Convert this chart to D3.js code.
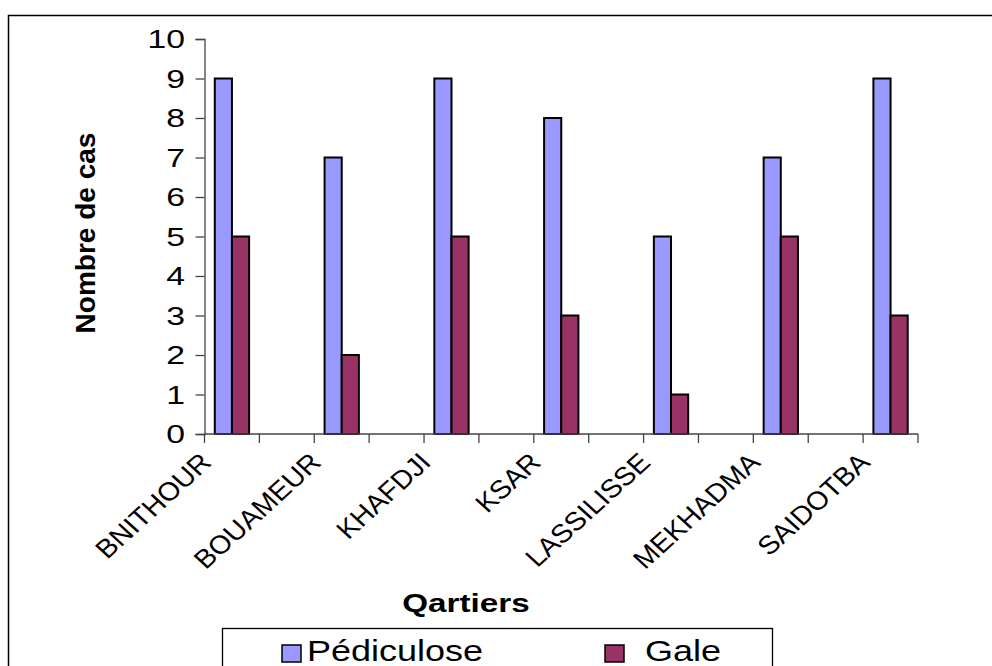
<!DOCTYPE html>
<html>
<head>
<meta charset="utf-8">
<script src="https://cdn.jsdelivr.net/npm/d3@7"></script>
<style>
  html, body { margin: 0; padding: 0; background: #fff; }
  svg { display: block; font-family: "Liberation Sans", Arial, sans-serif; }
</style>
</head>
<body>
<svg id="chart" width="992" height="666"></svg>
<script>
// Districts and number of cases per disease
const quartiers = ["BNITHOUR", "BOUAMEUR", "KHAFDJI", "KSAR", "LASSILISSE", "MEKHADMA", "SAIDOTBA"];
const pediculose = [9, 7, 9, 8, 5, 7, 9];
const gale = [5, 2, 5, 3, 1, 5, 3];
const seriesNames = ["Pédiculose", "Gale"];
const seriesColors = ["#9999FF", "#993366"];
const yTicks = [0, 1, 2, 3, 4, 5, 6, 7, 8, 9, 10];

const svg = d3.select("#chart");

// outer frame (runs off the right and bottom edges)
svg.append("rect")
  .attr("x", 8.5).attr("y", 15.5)
  .attr("width", 1100).attr("height", 800)
  .attr("fill", "none").attr("stroke", "#000").attr("stroke-width", 1.5);

const plotLeft = 204.5, plotRight = 918, plotTop = 39, plotBottom = 434;

// category slots: each district followed by an empty slot
const slots = [];
quartiers.forEach((q, i) => {
  slots.push(q);
  if (i < quartiers.length - 1) slots.push("__gap" + i);
});

const x = d3.scaleBand().domain(slots).range([plotLeft, plotRight]).padding(0);
const x1 = d3.scaleBand().domain(seriesNames).range([0, x.step()])
  .paddingInner(0).paddingOuter(0.6);
const y = d3.scaleLinear().domain([0, 10]).range([plotBottom, plotTop]);

const rows = quartiers.map((q, i) => ({ q, values: [pediculose[i], gale[i]] }));

// bars
const groups = svg.append("g").selectAll("g").data(rows).join("g")
  .attr("transform", d => `translate(${x(d.q)},0)`);
groups.selectAll("rect")
  .data(d => d.values.map((v, k) => ({ v, k })))
  .join("rect")
  .attr("x", d => x1(seriesNames[d.k]))
  .attr("width", x1.bandwidth())
  .attr("y", d => y(d.v))
  .attr("height", d => y(0) - y(d.v))
  .attr("fill", d => seriesColors[d.k])
  .attr("stroke", "#000").attr("stroke-width", 2);

// y axis
const yAxis = svg.append("g").attr("transform", `translate(${plotLeft},0)`)
  .call(d3.axisLeft(y).tickValues(yTicks).tickSize(9).tickFormat(() => ""));
yAxis.select(".domain").attr("stroke", "#444").attr("stroke-width", 1.3);
yAxis.selectAll(".tick line").attr("stroke", "#444").attr("stroke-width", 1.3);

svg.append("g").selectAll("text").data(yTicks).join("text")
  .attr("transform", d => `translate(185,${y(d)}) scale(1.35,1)`)
  .attr("text-anchor", "end").attr("dy", "0.36em")
  .attr("font-size", 25)
  .text(d => d);

// x axis: ticks at every slot boundary
const xAxisG = svg.append("g").attr("transform", `translate(0,${plotBottom})`);
xAxisG.append("line").attr("x1", plotLeft).attr("x2", plotRight)
  .attr("stroke", "#444").attr("stroke-width", 1.3);
const bounds = slots.map(s => x(s)).concat([plotRight]);
xAxisG.selectAll("line.tk").data(bounds).join("line").attr("class", "tk")
  .attr("x1", d => d).attr("x2", d => d).attr("y1", 0).attr("y2", 9)
  .attr("stroke", "#444").attr("stroke-width", 1.3);

// rotated district labels
svg.append("g").selectAll("text").data(quartiers).join("text")
  .attr("transform", d => `translate(${x(d) + x.bandwidth() / 2 - 19},464) scale(1.1,1) rotate(-45)`)
  .attr("text-anchor", "end")
  .attr("font-size", 26)
  .text(d => d);

// axis titles
svg.append("text")
  .attr("transform", "translate(95,233) rotate(-90)")
  .attr("text-anchor", "middle")
  .attr("font-size", 28).attr("font-weight", "bold")
  .text("Nombre de cas");

svg.append("text")
  .attr("transform", "translate(466,612) scale(1.28,1)")
  .attr("text-anchor", "middle")
  .attr("font-size", 26).attr("font-weight", "bold")
  .text("Qartiers");

// legend
const legend = svg.append("g");
legend.append("rect")
  .attr("x", 222.5).attr("y", 628.5).attr("width", 550).attr("height", 60)
  .attr("fill", "#fff").attr("stroke", "#000").attr("stroke-width", 1.3);
const legendX = [282, 605];
const items = legend.selectAll("g.item").data(seriesNames).join("g").attr("class", "item")
  .attr("transform", (d, i) => `translate(${legendX[i]},645)`);
items.append("rect").attr("width", 19).attr("height", 17)
  .attr("fill", (d, i) => seriesColors[i]).attr("stroke", "#000").attr("stroke-width", 1.5);
items.append("text")
  .attr("transform", (d, i) => `translate(${i === 0 ? 25 : 40},16) scale(1.2,1)`)
  .attr("font-size", 30)
  .text(d => d);
</script>
</body>
</html>
